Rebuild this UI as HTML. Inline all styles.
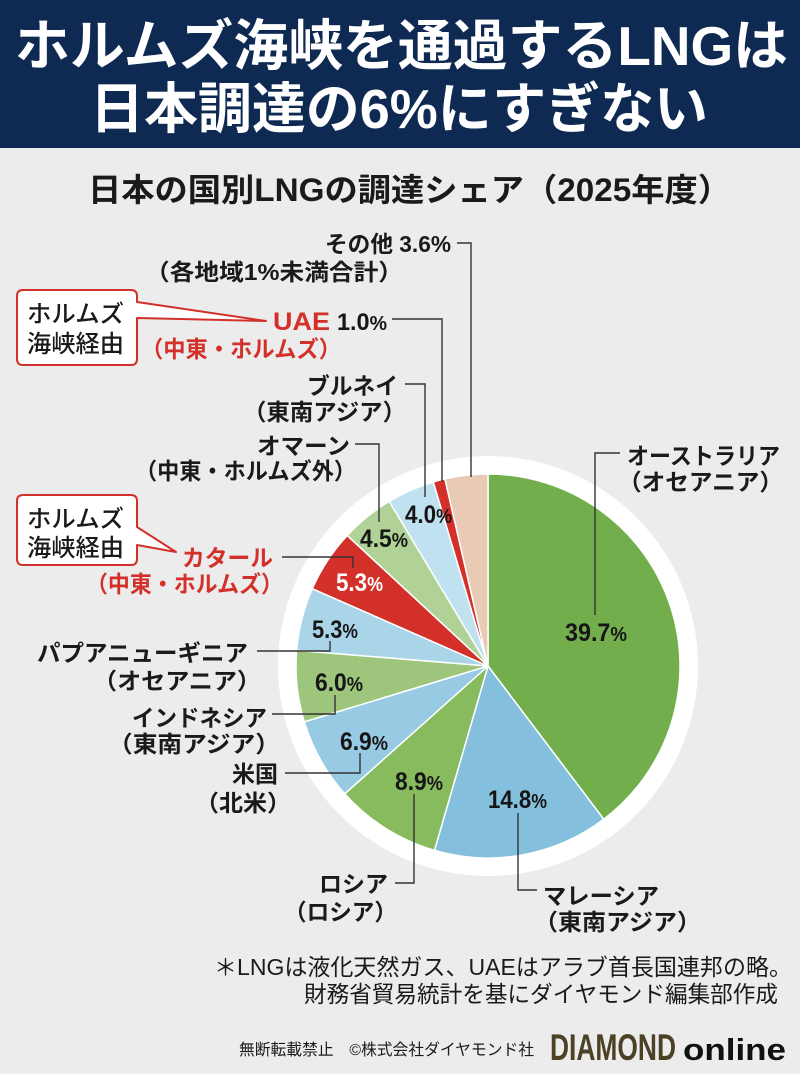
<!DOCTYPE html>
<html lang="ja">
<head>
<meta charset="utf-8">
<style>
  html,body{margin:0;padding:0;background:#ececec;}
  svg{display:block;}
  .t{font-family:"Liberation Sans","Noto Sans CJK JP",sans-serif;font-weight:700;}
  .lb{font-family:"Liberation Sans","Noto Sans CJK JP",sans-serif;font-weight:700;font-size:23px;fill:#1a1a1a;}
  .red{fill:#d3302a;}
  .pc{font-family:"Liberation Sans",sans-serif;font-weight:700;font-size:25px;fill:#161616;}
  .bx{font-family:"Liberation Sans","Noto Sans CJK JP",sans-serif;font-weight:500;font-size:24px;fill:#1a1a1a;}
  .fn{font-family:"Liberation Sans","Noto Sans CJK JP",sans-serif;font-weight:400;font-size:23px;fill:#1a1a1a;}
  .ld{fill:none;stroke:#333;stroke-width:1.4;}
</style>
</head>
<body>
<svg width="800" height="1074" viewBox="0 0 800 1074" xmlns="http://www.w3.org/2000/svg">
  <rect x="0" y="0" width="800" height="1074" fill="#ececec"/>
  <!-- header -->
  <rect x="0" y="0" width="800" height="148" fill="#0e2a53"/>
  <text class="t" x="15" y="65" font-size="55" fill="#ffffff" textLength="773" lengthAdjust="spacingAndGlyphs">ホルムズ海峡を通過するLNGは</text>
  <text class="t" x="90" y="128" font-size="55" fill="#ffffff" textLength="618" lengthAdjust="spacingAndGlyphs">日本調達の6%にすぎない</text>

  <!-- subtitle -->
  <text class="t" x="88" y="201" font-size="32" fill="#1a1a1a" textLength="643" lengthAdjust="spacingAndGlyphs">日本の国別LNGの調達シェア（2025年度）</text>

  <!-- pie ring -->
  <circle cx="488" cy="666" r="210" fill="#ffffff"/>
  <g stroke="#ffffff" stroke-width="1.5" stroke-linejoin="round">
    <path d="M488,666 L488,474 A192,192 0 0 1 603.72,819.22 Z" fill="#72af4c"/>
    <path d="M488,666 L603.72,819.22 A192,192 0 0 1 434.43,850.38 Z" fill="#84c0dd"/>
    <path d="M488,666 L434.43,850.38 A192,192 0 0 1 344.77,793.85 Z" fill="#88ba5e"/>
    <path d="M488,666 L344.77,793.85 A192,192 0 0 1 304.31,721.87 Z" fill="#98cae3"/>
    <path d="M488,666 L304.31,721.87 A192,192 0 0 1 296.64,650.33 Z" fill="#9dc57c"/>
    <path d="M488,666 L296.64,650.33 A192,192 0 0 1 312.28,588.64 Z" fill="#aad4e8"/>
    <path d="M488,666 L312.28,588.64 A192,192 0 0 1 347.21,535.44 Z" fill="#d3302a"/>
    <path d="M488,666 L347.21,535.44 A192,192 0 0 1 389.22,501.36 Z" fill="#b0d296"/>
    <path d="M488,666 L389.22,501.36 A192,192 0 0 1 433.28,481.97 Z" fill="#bfe1f0"/>
    <path d="M488,666 L433.28,481.97 A192,192 0 0 1 444.93,478.90 Z" fill="#d3302a"/>
    <path d="M488,666 L444.93,478.90 A192,192 0 0 1 488,474 Z" fill="#e9cab5"/>
  </g>

  <!-- leader lines -->
  <polyline class="ld" points="457,243 471,243 471,477"/>
  <polyline class="ld" points="392,319 442,319 442,482"/>
  <polyline class="ld" points="405,384 425,384 425,497"/>
  <polyline class="ld" points="355,444 379,444 379,522"/>
  <polyline class="ld" points="282,557 353,557 353,568"/>
  <polyline class="ld" points="257,651 330,651 330,641"/>
  <polyline class="ld" points="272,714 335,714 335,695"/>
  <polyline class="ld" points="285,773 360,773 360,753"/>
  <polyline class="ld" points="395,883 414,883 414,794"/>
  <polyline class="ld" points="518,813 518,890 537,890"/>
  <polyline class="ld" points="620,453 595,453 595,615"/>

  <!-- percent labels -->
  <text class="pc" x="565" y="641" textLength="62" lengthAdjust="spacingAndGlyphs">39.7<tspan font-size="20">%</tspan></text>
  <text class="pc" x="488" y="808" textLength="59" lengthAdjust="spacingAndGlyphs">14.8<tspan font-size="20">%</tspan></text>
  <text class="pc" x="395" y="790" textLength="48" lengthAdjust="spacingAndGlyphs">8.9<tspan font-size="20">%</tspan></text>
  <text class="pc" x="340" y="750" textLength="48" lengthAdjust="spacingAndGlyphs">6.9<tspan font-size="20">%</tspan></text>
  <text class="pc" x="315" y="691" textLength="48" lengthAdjust="spacingAndGlyphs">6.0<tspan font-size="20">%</tspan></text>
  <text class="pc" x="312" y="638" textLength="46" lengthAdjust="spacingAndGlyphs">5.3<tspan font-size="20">%</tspan></text>
  <text class="pc" x="336" y="591" textLength="47" lengthAdjust="spacingAndGlyphs" style="fill:#ffffff">5.3<tspan font-size="20">%</tspan></text>
  <text class="pc" x="360" y="547" textLength="48" lengthAdjust="spacingAndGlyphs">4.5<tspan font-size="20">%</tspan></text>
  <text class="pc" x="405" y="523" textLength="47" lengthAdjust="spacingAndGlyphs">4.0<tspan font-size="20">%</tspan></text>

  <!-- category labels -->
  <text class="lb" x="325" y="252" textLength="126" lengthAdjust="spacingAndGlyphs">その他 3.6%</text>
  <text class="lb" x="145" y="280" textLength="258" lengthAdjust="spacingAndGlyphs">（各地域1%未満合計）</text>

  <text class="t red" x="273" y="330" font-size="25" textLength="57" lengthAdjust="spacingAndGlyphs">UAE</text>
  <text class="pc" x="337" y="330" font-size="24" textLength="50" lengthAdjust="spacingAndGlyphs" style="font-size:24px">1.0<tspan font-size="20">%</tspan></text>
  <text class="lb red" x="141" y="357" textLength="200" lengthAdjust="spacingAndGlyphs">（中東・ホルムズ）</text>

  <text class="lb" x="307" y="394" textLength="91" lengthAdjust="spacingAndGlyphs">ブルネイ</text>
  <text class="lb" x="243" y="420" textLength="163" lengthAdjust="spacingAndGlyphs">（東南アジア）</text>

  <text class="lb" x="257" y="454" textLength="93" lengthAdjust="spacingAndGlyphs">オマーン</text>
  <text class="lb" x="135" y="479" textLength="221" lengthAdjust="spacingAndGlyphs">（中東・ホルムズ外）</text>

  <text class="lb red" x="182" y="566" textLength="91" lengthAdjust="spacingAndGlyphs">カタール</text>
  <text class="lb red" x="86" y="592" textLength="197" lengthAdjust="spacingAndGlyphs">（中東・ホルムズ）</text>

  <text class="lb" x="37" y="661" textLength="211" lengthAdjust="spacingAndGlyphs">パプアニューギニア</text>
  <text class="lb" x="93" y="689" textLength="168" lengthAdjust="spacingAndGlyphs">（オセアニア）</text>

  <text class="lb" x="132" y="726" textLength="135" lengthAdjust="spacingAndGlyphs">インドネシア</text>
  <text class="lb" x="108" y="752" textLength="172" lengthAdjust="spacingAndGlyphs">（東南アジア）</text>

  <text class="lb" x="232" y="782" textLength="46" lengthAdjust="spacingAndGlyphs">米国</text>
  <text class="lb" x="195" y="811" textLength="96" lengthAdjust="spacingAndGlyphs">（北米）</text>

  <text class="lb" x="319" y="892" textLength="69" lengthAdjust="spacingAndGlyphs">ロシア</text>
  <text class="lb" x="284" y="920" textLength="113" lengthAdjust="spacingAndGlyphs">（ロシア）</text>

  <text class="lb" x="543" y="904" textLength="116" lengthAdjust="spacingAndGlyphs">マレーシア</text>
  <text class="lb" x="534" y="930" textLength="167" lengthAdjust="spacingAndGlyphs">（東南アジア）</text>

  <text class="lb" x="627" y="464" textLength="153" lengthAdjust="spacingAndGlyphs">オーストラリア</text>
  <text class="lb" x="618" y="490" textLength="165" lengthAdjust="spacingAndGlyphs">（オセアニア）</text>

  <!-- callout boxes -->
  <path d="M23,290 H131 Q137,290 137,296 V302 L266,321 L137,318 V359 Q137,365 131,365 H23 Q17,365 17,359 V296 Q17,290 23,290 Z" fill="#ffffff" stroke="#d3302a" stroke-width="2" stroke-linejoin="round"/>
  <text class="bx" x="27" y="322" textLength="97" lengthAdjust="spacingAndGlyphs">ホルムズ</text>
  <text class="bx" x="27" y="352" textLength="97" lengthAdjust="spacingAndGlyphs">海峡経由</text>

  <path d="M23,495 H131 Q137,495 137,501 V527 L176,552 L137,545 V559 Q137,565 131,565 H23 Q17,565 17,559 V501 Q17,495 23,495 Z" fill="#ffffff" stroke="#d3302a" stroke-width="2" stroke-linejoin="round"/>
  <text class="bx" x="27" y="527" textLength="97" lengthAdjust="spacingAndGlyphs">ホルムズ</text>
  <text class="bx" x="27" y="556" textLength="97" lengthAdjust="spacingAndGlyphs">海峡経由</text>

  <!-- footnotes -->
  <text class="fn" x="214" y="975" textLength="578" lengthAdjust="spacingAndGlyphs">＊LNGは液化天然ガス、UAEはアラブ首長国連邦の略。</text>
  <text class="fn" x="304" y="1002" textLength="474" lengthAdjust="spacingAndGlyphs">財務省貿易統計を基にダイヤモンド編集部作成</text>

  <!-- footer -->
  <text class="fn" x="239" y="1055" style="font-size:16px" textLength="295" lengthAdjust="spacingAndGlyphs">無断転載禁止　©株式会社ダイヤモンド社</text>
  <text class="t" x="550" y="1060" font-size="37" fill="#4b4226" textLength="126" lengthAdjust="spacingAndGlyphs">DIAMOND</text>
  <text class="t" x="683" y="1060" font-size="31" fill="#111111" textLength="103" lengthAdjust="spacingAndGlyphs">online</text>
</svg>
</body>
</html>
